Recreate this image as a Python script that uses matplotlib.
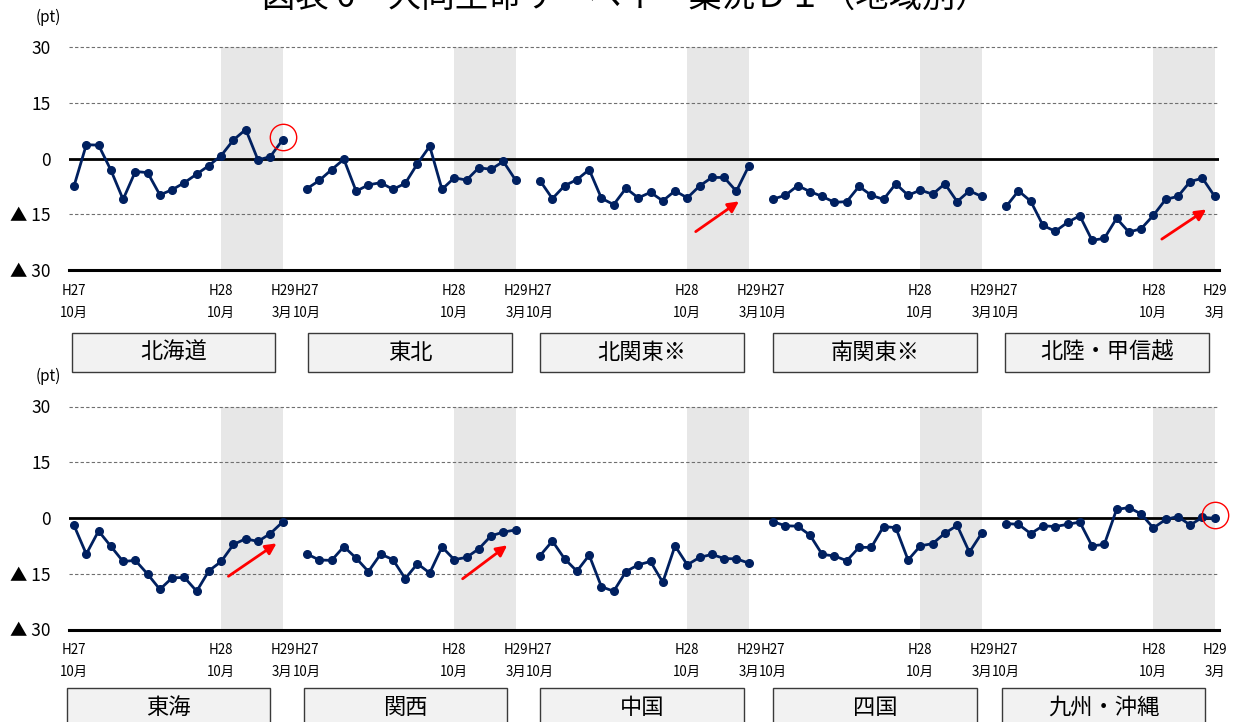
import numpy as np
import matplotlib.pyplot as plt
from matplotlib.patches import Rectangle
from matplotlib.transforms import blended_transform_factory

plt.rcParams['font.family'] = ['Noto Sans CJK JP', 'DejaVu Sans']

# 業況DI (pt), H27/10月 - H29/3月 (18 months per region)
hokkaido = [-7.4, 3.7, 3.6, -3.1, -11.0, -3.5, -3.8, -9.8, -8.4, -6.5, -4.2, -1.9, 0.8, 5.0, 7.8, -0.4, 0.5, 5.0]
tohoku = [-8.1, -5.9, -3.0, -0.2, -8.8, -7.1, -6.5, -8.3, -6.7, -1.4, 3.3, -8.3, -5.2, -5.8, -2.5, -2.9, -0.8, -5.8]
kita_kanto = [-6.0, -10.8, -7.3, -5.7, -3.0, -10.7, -12.4, -8.0, -10.6, -9.1, -11.4, -8.7, -10.6, -7.4, -5.1, -5.1, -8.8, -2.1]
minami_kanto = [-10.9, -9.9, -7.3, -8.9, -10.2, -11.8, -11.6, -7.5, -9.9, -11.0, -6.8, -9.9, -8.5, -9.6, -6.8, -11.6, -8.7, -10.2]
hokuriku = [-12.9, -8.7, -11.5, -18.0, -19.6, -17.2, -15.4, -22.0, -21.5, -16.1, -19.8, -18.9, -15.3, -11.0, -10.2, -6.2, -5.3, -10.2]

tokai = [-2.0, -9.7, -3.5, -7.6, -11.7, -11.4, -15.1, -19.2, -16.1, -16.0, -19.7, -14.2, -11.7, -7.1, -5.6, -6.3, -4.2, -1.1]
kansai = [-9.7, -11.3, -11.4, -7.7, -10.8, -14.4, -9.7, -11.2, -16.3, -12.3, -14.8, -7.8, -11.2, -10.6, -8.3, -4.8, -3.8, -3.2]
chugoku = [-10.1, -6.2, -11.0, -14.3, -10.0, -18.5, -19.7, -14.4, -12.6, -11.7, -17.3, -7.5, -12.6, -10.6, -9.8, -10.9, -11.0, -12.1]
shikoku = [-1.0, -2.1, -2.2, -4.6, -9.8, -10.2, -11.5, -7.9, -7.9, -2.3, -2.6, -11.3, -7.5, -6.9, -4.1, -2.0, -9.2, -4.1]
kyushu = [-1.5, -1.7, -4.2, -2.1, -2.3, -1.7, -1.1, -7.5, -7.1, 2.3, 2.8, 1.1, -2.7, -0.4, 0.4, -1.9, 0.2, -0.1]

top_names = ['北海道', '東北', '北関東※', '南関東※', '北陸・甲信越']
bottom_names = ['東海', '関西', '中国', '四国', '九州・沖縄']

tick_idx = [0, 12, 17]
tick_text = ['H27\n10月', 'H28\n10月', 'H29\n3月']
ytick_vals = [30, 15, 0, -15, -30]
ytick_text = ['30', '15', '0', '▲ 15', '▲ 30']

# red arrows (start, end) in data units
top_arrows = [((50.5, -20.1), (54.4, -11.1)), ((88.5, -22.1), (92.5, -13.3))]
bottom_arrows = [((12.4, -16.1), (16.7, -6.4)), ((31.5, -16.8), (35.5, -6.9))]

NAVY = '#002060'
W, H = 1238, 722
fig = plt.figure(figsize=(W / 100, H / 100), dpi=100)

fig.text(0.505, 1 - 7 / H, '図表 6　大同生命サーベイ　業況ＤＩ（地域別）',
         ha='center', va='baseline', fontsize=24)


def draw_row(bottom_px, series, names, box_lefts, box_top_px, arrows, circle_region):
    ax = fig.add_axes([69 / W, 1 - bottom_px / H, 1150 / W, 223 / H])
    n = len(series[0])
    step = n + 1
    for r, vals in enumerate(series):
        x = np.arange(n) + r * step
        ax.axvspan(r * step + 12, r * step + 17, color='#e7e7e7', lw=0, zorder=0)
        ax.plot(x, vals, color=NAVY, lw=2, marker='o', ms=5.5, zorder=4)
    for y in [30, 15, -15]:
        ax.axhline(y, color='#6f6f6f', lw=0.8, ls=(0, (3, 2)), zorder=1, clip_on=False)
    ax.axhline(0, color='black', lw=2, zorder=3)
    ax.axhline(-30, color='black', lw=2.2, zorder=3, clip_on=False)

    ax.set_xlim(-0.41, 93.35)
    ax.set_ylim(-30, 30)
    for s in ax.spines.values():
        s.set_visible(False)
    ax.set_yticks(ytick_vals)
    ax.set_yticklabels(ytick_text, fontsize=12.5)
    ticks, labels = [], []
    for r in range(len(series)):
        ticks += [r * step + t for t in tick_idx]
        labels += tick_text
    ax.set_xticks(ticks)
    ax.set_xticklabels(labels, fontsize=9.6)
    for t in ax.get_xticklabels():
        t.set_linespacing(1.7)
    ax.tick_params(axis='x', length=0, pad=10)
    ax.tick_params(axis='y', length=0, pad=13)

    for (x0, y0), (x1, y1) in arrows:
        ax.annotate('', xy=(x1, y1), xytext=(x0, y0),
                    arrowprops=dict(arrowstyle='-|>', color='red', lw=2, mutation_scale=16),
                    zorder=5)

    cx = circle_region * step + n - 1
    cy = series[circle_region][-1]
    ax.plot([cx], [cy + 0.8], marker='o', ms=19, mfc='none', mec='red', mew=1,
            zorder=5, clip_on=False)

    trans = blended_transform_factory(ax.transData, fig.transFigure)
    bh = 39 / H
    by = 1 - (box_top_px + 39) / H
    for r, name in enumerate(names):
        left = r * step + box_lefts[r]
        fig.add_artist(Rectangle((left, by), 16.6, bh, transform=trans,
                                 facecolor='#f2f2f2', edgecolor='#3a3a3a', lw=1))
        fig.text(left + 8.3, by + bh / 2, name, transform=trans,
                 ha='center', va='center', fontsize=16)

    fig.text(48 / W, 1 - (bottom_px - 253) / H, '(pt)', ha='center', va='center', fontsize=11)
    return ax


draw_row(270, [hokkaido, tohoku, kita_kanto, minami_kanto, hokuriku], top_names,
         [-0.2, 0.1, 0.0, 0.0, -0.07], 333, top_arrows, 0)
draw_row(629.5, [tokai, kansai, chugoku, shikoku, kyushu], bottom_names,
         [-0.6, -0.26, 0.0, 0.0, -0.37], 688, bottom_arrows, 4)

fig.savefig('out.png', dpi=100)
